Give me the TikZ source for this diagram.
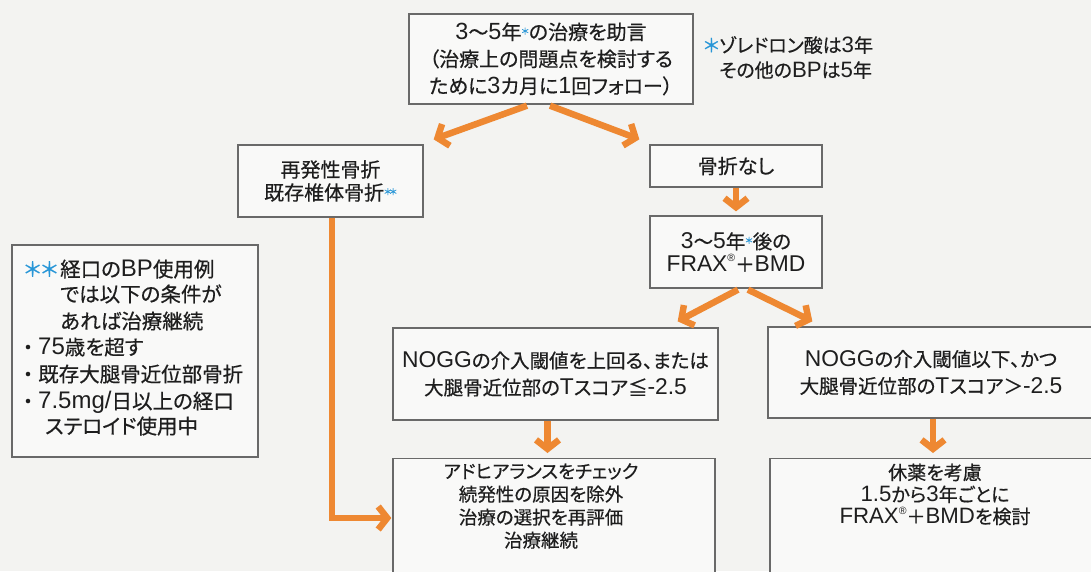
\documentclass[tikz,border=0pt]{standalone}
\usepackage{fontspec}
\setmainfont{Noto Sans CJK JP}[RawFeature={+palt;embolden=0.5}]
\newfontfamily\latf{Liberation Sans}[Scale=1.17]
\newcommand\La[1]{{\latf #1}}
\newcommand\reg{\raisebox{0.5em}{\fontsize{9}{9}\selectfont\latf ®}}
\usetikzlibrary{arrows.meta,calc}
\definecolor{bg}{RGB}{243,243,241}
\definecolor{boxfill}{RGB}{249,249,248}
\definecolor{boxline}{RGB}{105,105,105}
\definecolor{arrorange}{RGB}{238,136,50}
\definecolor{astblue}{RGB}{40,150,215}
\definecolor{txt}{RGB}{30,30,30}
\newcommand\bast{\raisebox{5pt}{\fontsize{9}{9}\selectfont\color{astblue}＊}}
\begin{document}
\begin{tikzpicture}[x=1pt,y=-1pt,
  box/.style={draw=boxline,line width=1.3pt,fill=boxfill,inner sep=0pt,align=center,text=txt},
  lt/.style={anchor=west,inner sep=0pt,text=txt,text height=0.88em,text depth=0.12em,font=\fontsize{20.5}{26}\selectfont},
  bul/.style={anchor=center,inner sep=0pt,text=txt,text height=0.88em,text depth=0.12em,font=\fontsize{20.5}{26}\selectfont},
  tx/.style={align=center,inner sep=0pt,text=txt},
  arr/.style={draw=arrorange,line width=6.5pt,line join=miter,-{Straight Barb[length=9pt,width=23pt]}},
  font=\fontsize{20}{27}\selectfont]
\useasboundingbox (0,0) rectangle (1091,571);
\fill[bg] (0,0) rectangle (1091,571);

% top box
\node[box,minimum width=284pt,minimum height=90pt] (top) at (551,59)
  {\La{3}〜\La{5}年\bast の治療を助言\\（治療上の問題点を検討する\\ために\La{3}カ月に\La{1}回フォロー）};
\node[anchor=west,align=left,inner sep=0pt,text=txt,font=\fontsize{19}{25}\selectfont] (bpnote) at (719,57.5)
  {\llap{\color{astblue}＊}ゾレドロン酸は\La{3}年\\その他の\La{BP}は\La{5}年};

% second row
\node[box,minimum width=185pt,minimum height=72pt,font=\fontsize{20}{23}\selectfont] (rec) at (330.5,181)
  {再発性骨折\\既存椎体骨折\bast\kern-2pt\bast};
\node[box,minimum width=172pt,minimum height=42pt] (nofr) at (736,166) {骨折なし};
\node[box,minimum width=172pt,minimum height=72pt,font=\fontsize{19.5}{23}\selectfont] (frax) at (736,252)
  {\La{3}〜\La{5}年\bast 後の\\\La{FRAX}\reg＋\La{BMD}};

% left note
\node[box,minimum width=246pt,minimum height=212pt] (nbox) at (135,351) {};
\node[lt,text=astblue] (n0) at (24,273) {＊＊};
\node[lt] (n1) at (60,273) {経口の\La{BP}使用例};
\node[lt] (n2) at (60,298) {では以下の条件が};
\node[lt] (n3) at (60,325) {あれば治療継続};
\node[bul] (b4) at (28,351) {・};
\node[lt] (n4) at (38,351) {\La{75}歳を超す};
\node[bul] (b5) at (28,378) {・};
\node[lt] (n5) at (38,378) {既存大腿骨近位部骨折};
\node[bul] (b6) at (28,405) {・};
\node[lt] (n6) at (38,405) {\La{7.5mg/}日以上の経口};
\node[lt] (n7) at (45,430) {ステロイド使用中};

% NOGG boxes
\node[box,minimum width=325pt,minimum height=92pt,font=\fontsize{19.5}{27}\selectfont] (ng1) at (555.5,374)
  {\La{NOGG}の介入閾値を上回る、または\\大腿骨近位部の\La{T}スコア≦\La{-2.5}};
\node[box,minimum width=326pt,minimum height=91pt,font=\fontsize{19.5}{27}\selectfont] (ng2) at (931,372.5)
  {\La{NOGG}の介入閾値以下、かつ\\大腿骨近位部の\La{T}スコア＞\La{-2.5}};

% bottom boxes
\node[box,minimum width=322pt,minimum height=150pt,anchor=north] (bl) at (554,458) {};
\node[tx,font=\fontsize{18.5}{23}\selectfont] (blt) at (541,506)
  {アドヒアランスをチェック\\続発性の原因を除外\\治療の選択を再評価\\治療継続};
\node[box,minimum width=324pt,minimum height=150pt,anchor=north] (br) at (932,458) {};
\node[tx,font=\fontsize{19}{22}\selectfont] (brt) at (935,494.5)
  {休薬を考慮\\\La{1.5}から\La{3}年ごとに\\\La{FRAX}\reg＋\La{BMD}を検討};

% arrows
\draw[arr] ($(top.south)+(-24,1)$) -- ($(rec.north east)+(10,-5)$);
\draw[arr] ($(top.south)+(-1,1)$) -- ($(nofr.north west)+(-10,-5)$);
\draw[arr] (nofr.south) -- ($(frax.north)+(0,-4)$);
\draw[arr] ($(frax.south)+(2,1)$) -- ($(ng1.north east)+(-41,-6)$);
\draw[arr] ($(frax.south)+(12,1)$) -- ($(ng2.north west)+(45,-5)$);
\draw[arr] ($(ng1.south)+(-8,0)$) -- ($(bl.north -| ng1.south)+(-8,-5)$);
\draw[arr] ($(ng2.south)+(2,0)$) -- ($(br.north -| ng2.south)+(2,-5)$);
\draw[arr] ($(rec.south)+(1.5,0)$) |- ($(bl.north west)+(-1,60)$);
\end{tikzpicture}
\end{document}
